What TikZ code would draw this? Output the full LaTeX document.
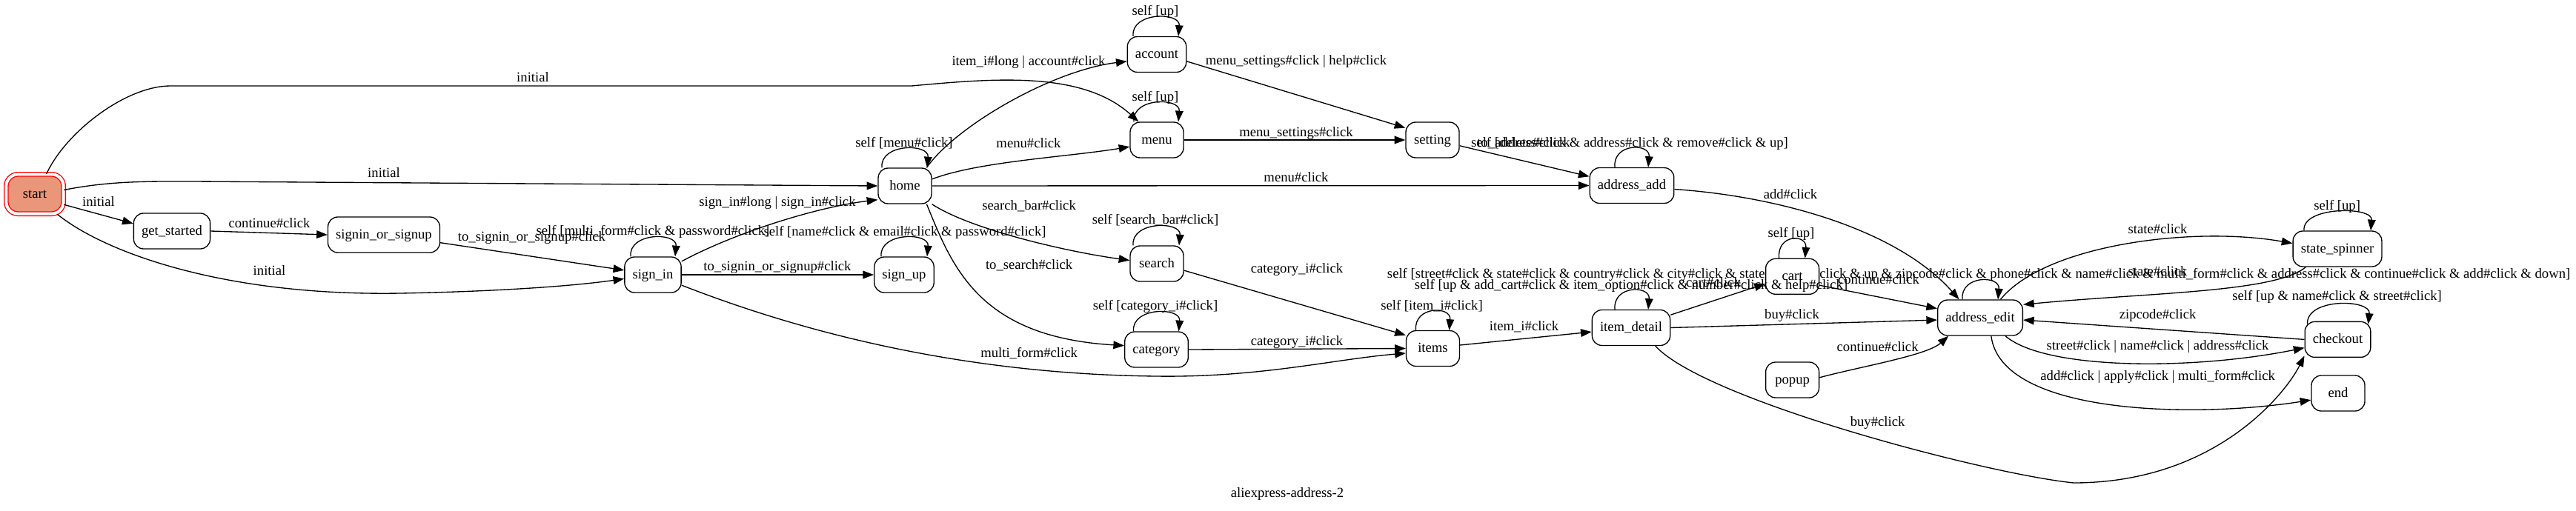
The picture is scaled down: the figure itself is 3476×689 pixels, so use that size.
\documentclass[tikz,border=0pt]{standalone}
\usepackage{fontspec}
\setmainfont{Liberation Serif}
\usetikzlibrary{arrows.meta,calc}
\pgfdeclarelayer{background}
\pgfsetlayers{background,main}
\definecolor{startfill}{RGB}{233,150,122}
\tikzset{
  state/.style={draw, line width=1pt, rounded corners=10pt, fill=white, minimum width=54pt,
    minimum height=36pt, inner xsep=8pt, text height=10pt, text depth=2pt},
  startstate/.style={state, draw=red, double=white, double distance=3pt, fill=startfill,
    minimum width=58pt, minimum height=40pt, rounded corners=12pt},
  lbl/.style={inner sep=0pt, text height=10pt, text depth=2pt},
  trans/.style={line width=1pt, -{Triangle[length=11pt,width=8pt]}},
}
\begin{document}
\begin{tikzpicture}[x=0.75pt,y=-0.75pt,font=\fontsize{14pt}{17pt}\selectfont]
        \begin{pgfonlayer}{background}
        \path[use as bounding box, fill=white] (0,0) rectangle (3476,689);
        \node[lbl] (s13) at (2670,370) {self [street\#click \& state\#click \& country\#click \& city\#click \& state\_spinner\#click \& up \& zipcode\#click \& phone\#click \& name\#click \& multi\_form\#click \& address\#click \& continue\#click \& add\#click \& down]};
        \end{pgfonlayer}

        % states
        \node[startstate] (start) at (47,262) {start};
        \node[state] (get_started) at (232,312) {get\_started};
        \node[state] (signin_or_signup) at (518,317) {signin\_or\_signup};
        \node[state] (sign_in) at (881,371) {sign\_in};
        \node[state] (sign_up) at (1220,371) {sign\_up};
        \node[state] (home) at (1221,251) {home};
        \node[state] (account) at (1561,73.5) {account};
        \node[state] (menu) at (1561,189) {menu};
        \node[state] (setting) at (1933,189) {setting};
        \node[state] (address_add) at (2202,250.5) {address\_add};
        \node[state] (search) at (1561,356) {search};
        \node[state] (category) at (1560.5,472) {category};
        \node[state] (items) at (1933.5,470.5) {items};
        \node[state] (item_detail) at (2201,442.5) {item\_detail};
        \node[state] (cart) at (2418.6,373.3) {cart};
        \node[state] (popup) at (2418.6,513) {popup};
        \node[state] (address_edit) at (2672,429) {address\_edit};
        \node[state] (state_spinner) at (3154,336) {state\_spinner};
        \node[state] (checkout) at (3154.5,458.4) {checkout};
        \node[state] (end) at (3155,531) {end};
        \node (title) at (1737,667) {aliexpress-address-2};

        % self loops
        \foreach \n/\a/\b in {sign_in/30/30, sign_up/31/31, home/31/30, account/32/29, menu/31/29,
                search/32/30, category/31/30, items/23/22, item_detail/22/23, address_add/23/22,
                cart/18/17, address_edit/24/24, state_spinner/45/45}{
        \draw[trans] ($(\n.north)+(-\a,0)$) .. controls +(-3,-33) and +(3,-33) .. ($(\n.north)+(\b,0)$);
        }
        \draw[trans] ($(checkout.north west)+(4,4)$) .. controls +(-2,-36) and +(4,-34) .. ($(checkout.north east)+(-4,4)$);

        \node[lbl] (s1) at (881,312) {self [multi\_form\#click \& password\#click]};
        \node[lbl] (s2) at (1221,313) {self [name\#click \& email\#click \& password\#click]};
        \node[lbl] (s3) at (1220,192.7) {self [menu\#click]};
        \node[lbl] (s4) at (1559,15) {self [up]};
        \node[lbl] (s5) at (1559,131) {self [up]};
        \node[lbl] (s6) at (1559,297) {self [search\_bar\#click]};
        \node[lbl] (s7) at (1559,413) {self [category\_i\#click]};
        \node[lbl] (s8) at (1932,412.7) {self [item\_i\#click]};
        \node[lbl] (s9) at (2201,385) {self [up \& add\_cart\#click \& item\_option\#click \& number\#click \& help\#click]};
        \node[lbl] (s10) at (2199,193) {self [delete\#click \& address\#click \& remove\#click \& up]};
        \node[lbl] (s11) at (2417,315) {self [up]};
        \node[lbl] (s12) at (3153.6,278) {self [up]};
        \node[lbl] (s14) at (3153.6,400) {self [up \& name\#click \& street\#click]};

        % transitions
        \draw[trans] (start.60) .. controls (89,178) and (170,116) .. (230,116) -- (1230,116) .. controls (1340,106) and (1460,95) .. (menu.135) node[lbl] (l1) at (719,105) {initial};
        \draw[trans] (start.8) .. controls (150,244) and (200,245) .. (260,245) -- (home.west) node[lbl] (l2) at (518,234) {initial};
        \draw[trans] (start.-20) -- (get_started.169) node[lbl] (l3) at (133,273) {initial};
        \draw[trans] (start.-42) .. controls (140,340) and (300,400) .. (540,396) .. controls (650,394) and (760,388) .. (sign_in.188) node[lbl] (l4) at (363.5,366) {initial};
        \draw[trans] (get_started.east) -- (signin_or_signup.west) node[lbl] (l5) at (363.5,301.7) {continue\#click};
        \draw[trans] (signin_or_signup.-8) -- (sign_in.171) node[lbl] (l6) at (717.5,320) {to\_signin\_or\_signup\#click};
        \draw[trans] (sign_in.25) .. controls (990,315) and (1100,280) .. (home.207) node[lbl] (l8) at (1049,273) {sign\_in\#long | sign\_in\#click};
        \draw[trans] (sign_in.east) -- (sign_up.west) node[lbl] (l9) at (1049,360) {to\_signin\_or\_signup\#click};
        \draw[trans] (sign_in.-20) .. controls (1060,440) and (1280,505) .. (1560,508) .. controls (1700,510) and (1800,485) .. (items.190) node[lbl] (l11) at (1388.6,476.7) {multi\_form\#click};
        \draw[trans] (home.40) .. controls (1290,170) and (1420,95) .. (account.193) node[lbl] (l13) at (1388,83) {item\_i\#long | account\#click};
        \draw[trans] (home.14) .. controls (1320,218) and (1440,212) .. (menu.194) node[lbl] (l14) at (1388,194) {menu\#click};
        \draw[trans] (home.east) -- (address_add.west) node[lbl] (l15) at (1749,240) {menu\#click};
        \draw[trans] (home.-34) .. controls (1310,310) and (1440,340) .. (search.173) node[lbl] (l16) at (1388.6,278) {search\_bar\#click};
        \draw[trans] (home.-40) .. controls (1285,360) and (1320,455) .. (category.173) node[lbl] (l17) at (1388.6,358) {to\_search\#click};
        \draw[trans] (account.-13) -- (setting.156) node[lbl] (l19) at (1749,82) {menu\_settings\#click | help\#click};
        \draw[trans] (menu.east) -- (setting.west) node[lbl] (l21) at (1749,179) {menu\_settings\#click};
        \draw[trans] (setting.-12) -- (address_add.168) node[lbl] (l22) at (2056,193) {to\_address\#click};
        \draw[trans] (address_add.-5) .. controls (2400,265) and (2560,310) .. (address_edit.139) node[lbl] (l24) at (2416,262.7) {add\#click};
        \draw[trans] (search.-14) -- (items.154) node[lbl] (l26) at (1750,363) {category\_i\#click};
        \draw[trans] (category.east) -- (items.west) node[lbl] (l28) at (1750,461) {category\_i\#click};
        \draw[trans] (items.7) -- (item_detail.186) node[lbl] (l30) at (2056.6,440.7) {item\_i\#click};
        \draw[trans] (item_detail.18) -- (cart.195) node[lbl] (l32) at (2312,382) {cart\#click};
        \draw[trans] (item_detail.east) -- (address_edit.183) node[lbl] (l33) at (2418,425) {buy\#click};
        \draw[trans] (item_detail.-37) .. controls (2300,540) and (2680,640) .. (2798,652) .. controls (2990,652) and (3085,530) .. (checkout.206) node[lbl] (l34) at (2533.6,570) {buy\#click};
        \draw[trans] (cart.-18) -- (address_edit.168) node[lbl] (l36) at (2535,377.7) {continue\#click};
        \draw[trans] (address_edit.42) .. controls (2760,330) and (2960,305) .. (state_spinner.173) node[lbl] (l38) at (2911.6,310) {state\#click};
        \draw[trans] (state_spinner.210) .. controls (3070,395) and (2900,395) .. (address_edit.17) node[lbl] (l39) at (2911.6,366.7) {state\#click};
        \draw[trans] (checkout.west) -- (address_edit.-3) node[lbl] (l42) at (2911.6,425) {zipcode\#click};
        \draw[trans] (address_edit.-36) .. controls (2760,500) and (2960,500) .. (checkout.194) node[lbl] (l43) at (2911.6,466.7) {street\#click | name\#click | address\#click};
        \draw[trans] (address_edit.-59) .. controls (2700,560) and (2960,565) .. (end.194) node[lbl] (l44) at (2911.6,508) {add\#click | apply\#click | multi\_form\#click};
        \draw[trans] (popup.5) .. controls (2510,495) and (2600,480) .. (address_edit.210) node[lbl] (l45) at (2533.6,469) {continue\#click};
\end{tikzpicture}
\end{document}
